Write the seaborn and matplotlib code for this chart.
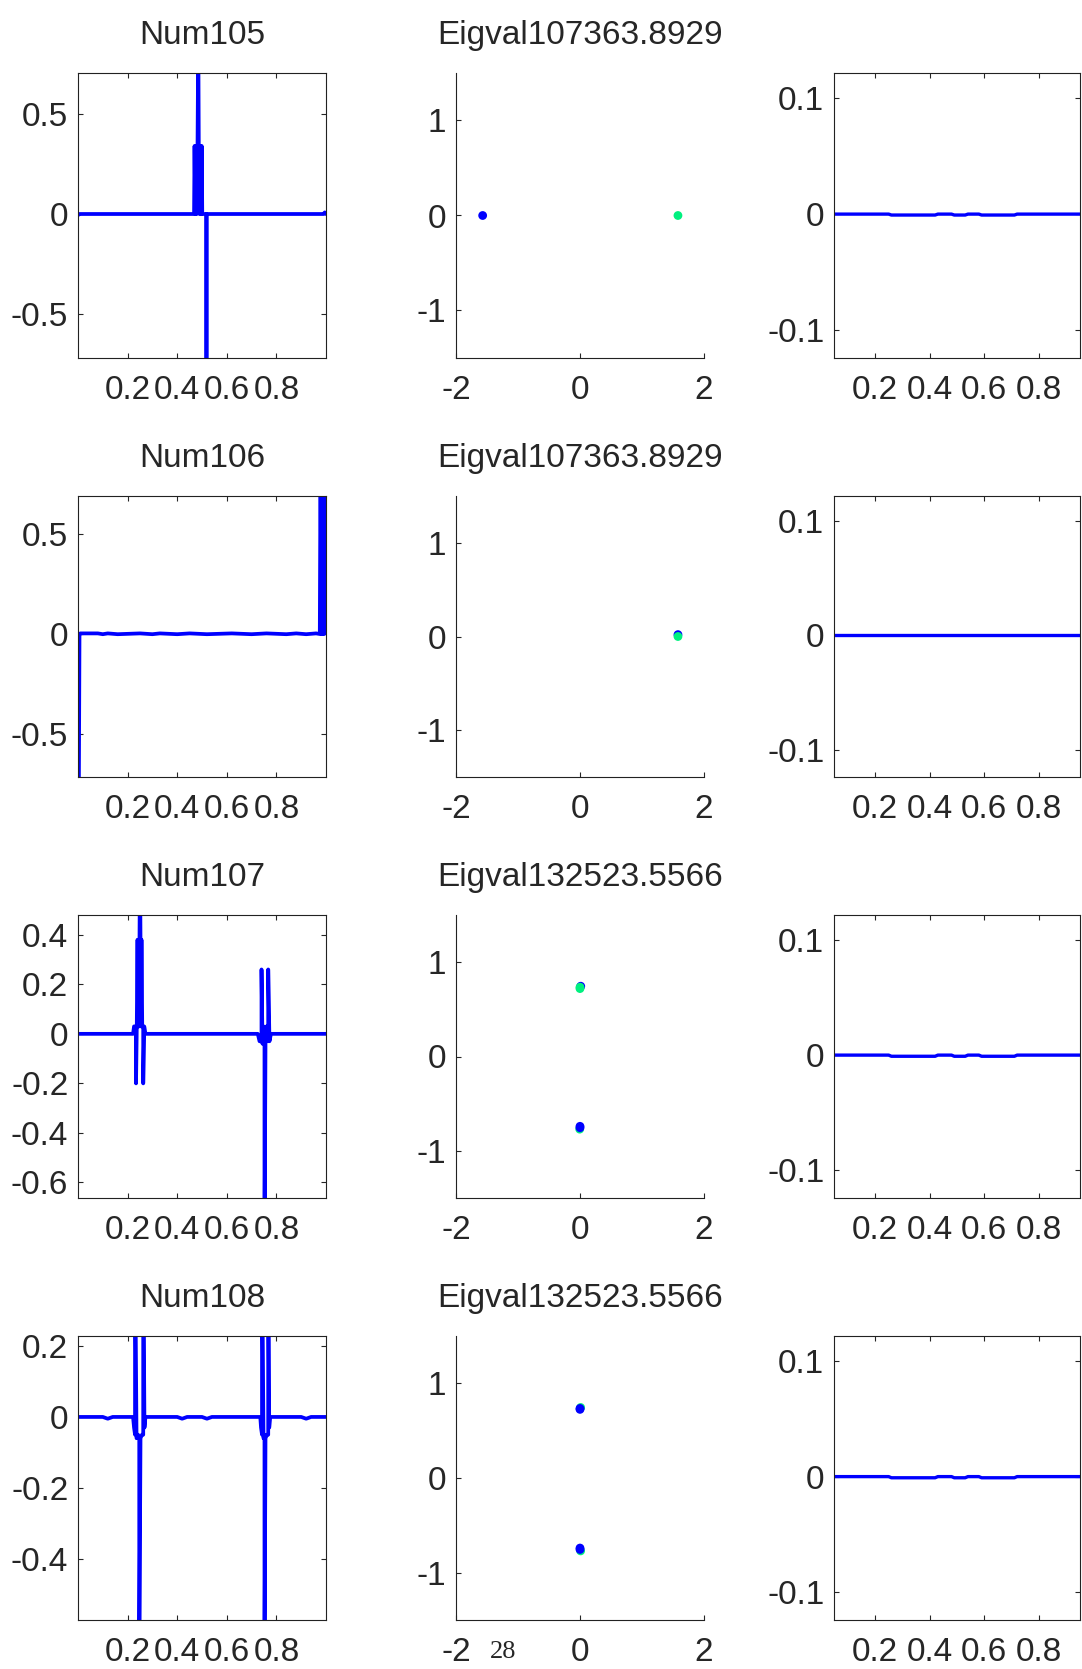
import numpy as np
import pandas as pd
import matplotlib
matplotlib.use("Agg")
import matplotlib.pyplot as plt
import seaborn as sns

# --- data --------------------------------------------------------------
titles_left = ["Num105", "Num106", "Num107", "Num108"]
titles_mid = ["Eigval107363.8929", "Eigval107363.8929",
              "Eigval132523.5566", "Eigval132523.5566"]

# eigenvector traces (column 1), breakpoints of the polyline
vec105_x = [0.0, 0.005, 0.468, 0.470, 0.473, 0.476, 0.479, 0.482, 0.485, 0.487,
            0.490, 0.493, 0.496, 0.499, 0.501, 0.517, 0.517, 0.519, 0.519,
            0.99, 0.995, 1.0]
vec105_y = [-0.006, 0.0, 0.0, 0.34, 0.0, 0.34, 0.0, 0.34, 0.9, 0.34,
            0.0, 0.34, 0.0, 0.34, 0.0, 0.0, -0.9, -0.9, 0.0,
            0.0, 0.008, 0.0]

vec106_x = [0.0, 0.003, 0.006, 0.009, 0.08, 0.10, 0.12, 0.16, 0.25, 0.30, 0.33,
            0.40, 0.45, 0.52, 0.62, 0.70, 0.76, 0.84, 0.88, 0.92, 0.96, 0.975,
            0.978, 0.981, 0.984, 0.987, 0.990, 0.993, 0.996, 0.999]
vec106_y = [-0.9, -0.9, 0.0, 0.003, 0.003, -0.001, 0.003, -0.001, 0.003, -0.001,
            0.003, -0.001, 0.003, -0.001, 0.003, -0.001, 0.003, -0.001, 0.003,
            -0.001, 0.003, 0.0, 0.9, 0.0, 0.9, 0.0, 0.9, 0.0, 0.9, 0.9]

vec107_x = [0.0, 0.222, 0.226, 0.234, 0.234, 0.237, 0.240, 0.242, 0.244, 0.246,
            0.248, 0.250, 0.252, 0.254, 0.256, 0.259, 0.263, 0.263, 0.267, 0.272,
            0.725, 0.732, 0.740, 0.740, 0.744, 0.748, 0.752, 0.752, 0.756,
            0.760, 0.767, 0.767, 0.772, 0.778, 1.0]
vec107_y = [0.0, 0.0, 0.03, 0.03, -0.2, 0.03, 0.38, 0.03, 0.38, 0.03,
            0.38, 0.7, 0.38, 0.03, 0.38, 0.03, 0.03, -0.2, 0.03, 0.0,
            0.0, -0.03, -0.03, 0.26, -0.04, 0.03, -0.04, -0.9, -0.04,
            0.03, -0.03, 0.26, -0.03, 0.0, 0.0]

vec108_x = [0.0, 0.10, 0.12, 0.14, 0.222, 0.226, 0.230, 0.230,
            0.236, 0.242, 0.247, 0.247, 0.252, 0.258, 0.263, 0.263, 0.268,
            0.272, 0.40, 0.42, 0.44, 0.50, 0.52, 0.54, 0.735, 0.738, 0.742,
            0.742, 0.748, 0.752, 0.752, 0.756, 0.762, 0.767, 0.767, 0.771,
            0.775, 0.90, 0.92, 0.94, 1.0]
vec108_y = [0.0, 0.0, -0.005, 0.0, 0.0, -0.03, -0.05, 0.5,
            -0.06, -0.05, -0.06, -0.7, -0.06, -0.05, -0.05, 0.5, -0.03,
            0.0, 0.0, -0.005, 0.0, 0.0, -0.005, 0.0, 0.0, -0.03, -0.05,
            0.5, -0.06, -0.05, -0.7, -0.06, -0.05, -0.05, 0.5, -0.03,
            0.0, 0.0, -0.005, 0.0, 0.0]

vec_x = [vec105_x, vec106_x, vec107_x, vec108_x]
vec_y = [vec105_y, vec106_y, vec107_y, vec108_y]
vec_ylim = [(-0.72, 0.705), (-0.715, 0.69), (-0.663, 0.48), (-0.572, 0.228)]
vec_yticks = [[-0.5, 0, 0.5], [-0.5, 0, 0.5],
              [-0.6, -0.4, -0.2, 0, 0.2, 0.4], [-0.4, -0.2, 0, 0.2]]

# eigenvalue scatter (column 2)
eig_x = [[-1.57, 1.58], [1.58, 1.58],
         [0.012, 0.0, 0.0, -0.005, 0.0, 0.0],
         [0.01, 0.0, 0.0, 0.01, 0.0, 0.0]]
eig_y = [[0.0, 0.0], [0.02, 0.0],
         [0.745, 0.72, 0.735, -0.77, -0.74, -0.755],
         [0.745, 0.725, 0.735, -0.77, -0.74, -0.755]]
eig_kind = [["a", "b"], ["a", "b"],
            ["a", "b", "b", "b", "a", "a"],
            ["b", "a", "a", "b", "a", "a"]]

# residual traces (column 3)
res_x = [0.05, 0.25, 0.26, 0.42, 0.43, 0.48, 0.49, 0.53, 0.54, 0.58, 0.59,
         0.71, 0.72, 0.95]
res_y = [[0.0, 0.0, -0.0008, -0.0008, 0.0, 0.0, -0.0008, -0.0008, 0.0, 0.0,
          -0.0008, -0.0008, 0.0, 0.0],
         [0.0, 0.0, 0.0, 0.0, 0.0, 0.0, 0.0, 0.0, 0.0, 0.0, 0.0, 0.0, 0.0, 0.0],
         [0.0, 0.0, -0.001, -0.001, 0.0, 0.0, -0.001, -0.001, 0.0, 0.0,
          -0.001, -0.001, 0.0, 0.0],
         [0.0, 0.0, -0.001, -0.001, 0.0, 0.0, -0.001, -0.001, 0.0, 0.0,
          -0.001, -0.001, 0.0, 0.0]]

# --- style ---------------------------------------------------------------
sns.set_style("ticks")
plt.rcParams.update({
    "font.family": ["Liberation Sans", "DejaVu Sans"],
    "font.size": 24,
    "axes.linewidth": 0.8,
    "axes.edgecolor": "#222222",
    "xtick.direction": "in",
    "ytick.direction": "in",
    "xtick.major.size": 3.5,
    "ytick.major.size": 3.5,
    "xtick.major.width": 0.8,
    "ytick.major.width": 0.8,
    "xtick.labelsize": 24,
    "ytick.labelsize": 24,
    "xtick.major.pad": 12,
    "ytick.major.pad": 7,
    "axes.unicode_minus": False,
})

W, H = 1082, 1669
fig = plt.figure(figsize=(W / 100, H / 100), dpi=100)

cols = [(78, 326), (456, 704), (834, 1080)]
rows = [(73, 358), (496, 777), (915, 1198), (1336, 1620)]


def add_ax(c, r):
    l, rgt = cols[c]
    t, b = rows[r]
    return fig.add_axes([l / W, 1 - b / H, (rgt - l) / W, (b - t) / H])


def fmt(v):
    return "0" if v == 0 else f"{v:g}"


blue = "#0000FF"
green = "#00F07F"

for r in range(4):
    # column 1: eigenvector
    ax = add_ax(0, r)
    df = pd.DataFrame({"x": vec_x[r], "y": vec_y[r]})
    sns.lineplot(data=df, x="x", y="y", sort=False, estimator=None,
                 color=blue, linewidth=2.7, ax=ax)
    ax.set_xlim(0, 1)
    ax.set_ylim(*vec_ylim[r])
    ax.set_xticks([0.2, 0.4, 0.6, 0.8])
    ax.set_xticklabels(["0.2", "0.4", "0.6", "0.8"])
    ax.set_yticks(vec_yticks[r])
    ax.set_yticklabels([fmt(v) for v in vec_yticks[r]])
    ax.tick_params(top=True, right=True)
    ax.set_xlabel("")
    ax.set_ylabel("")
    ax.set_title(titles_left[r], fontsize=24, pad=21)

    # column 2: eigenvalues in the complex plane
    ax = add_ax(1, r)
    df = pd.DataFrame({"x": eig_x[r], "y": eig_y[r], "k": eig_kind[r]})
    sns.scatterplot(data=df, x="x", y="y", hue="k",
                    palette={"a": blue, "b": green}, s=40,
                    edgecolor="none", legend=False, ax=ax)
    ax.set_xlim(-2, 2)
    ax.set_ylim(-1.5, 1.5)
    ax.set_xticks([-2, 0, 2])
    ax.set_xticklabels(["-2", "0", "2"])
    ax.set_yticks([-1, 0, 1])
    ax.set_yticklabels(["-1", "0", "1"])
    sns.despine(ax=ax)
    ax.set_xlabel("")
    ax.set_ylabel("")
    ax.set_title(titles_mid[r], fontsize=24, pad=21)

    # column 3: residual
    ax = add_ax(2, r)
    df = pd.DataFrame({"x": res_x, "y": res_y[r]})
    sns.lineplot(data=df, x="x", y="y", sort=False, estimator=None,
                 color=blue, linewidth=2.4, ax=ax)
    ax.set_xlim(0.05, 0.95)
    ax.set_ylim(-0.124, 0.1216)
    ax.set_xticks([0.2, 0.4, 0.6, 0.8])
    ax.set_xticklabels(["0.2", "0.4", "0.6", "0.8"])
    ax.set_yticks([-0.1, 0, 0.1])
    ax.set_yticklabels(["-0.1", "0", "0.1"])
    ax.tick_params(top=True, right=True)
    ax.set_xlabel("")
    ax.set_ylabel("")

fig.text(503 / W, 1 - 1652 / H, "28", ha="center", va="center",
         fontsize=19, family=["Liberation Serif", "DejaVu Serif"])

fig.savefig("out.png", dpi=100)
